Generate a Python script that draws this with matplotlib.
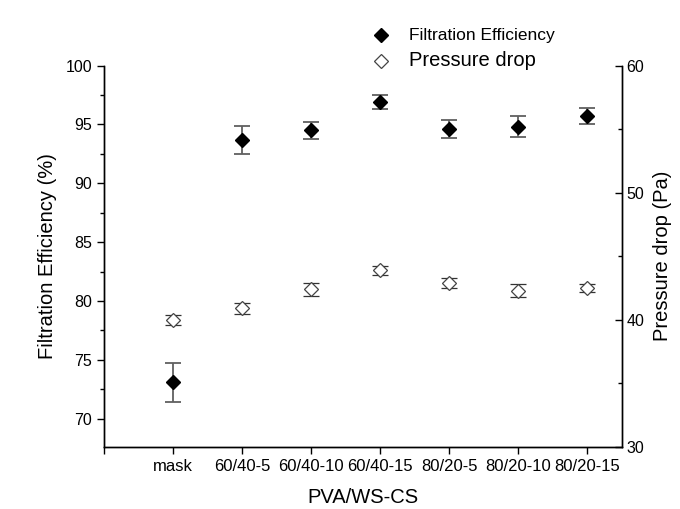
import matplotlib.pyplot as plt
from matplotlib.ticker import MultipleLocator

plt.rcParams['font.family'] = ['Liberation Sans', 'DejaVu Sans']

# data
samples = ["mask", "60/40-5", "60/40-10", "60/40-15", "80/20-5", "80/20-10", "80/20-15"]
efficiency = [73.1, 93.7, 94.5, 96.9, 94.6, 94.8, 95.7]
efficiency_err = [1.65, 1.2, 0.7, 0.6, 0.75, 0.9, 0.7]
pressure = [40.0, 40.9, 42.4, 43.9, 42.9, 42.3, 42.5]
pressure_err = [0.4, 0.45, 0.5, 0.35, 0.4, 0.5, 0.3]

x = list(range(1, len(samples) + 1))

fig = plt.figure(figsize=(6.8, 5.09), dpi=100)
ax = fig.add_axes([0.153, 0.122, 0.761, 0.749])
ax2 = ax.twinx()

# Filtration efficiency (left axis)
h1 = ax.errorbar(x, efficiency, yerr=efficiency_err, fmt='D', color='black',
                 markersize=7, ecolor='#606060', elinewidth=1.3, capsize=5.5,
                 capthick=1.3)

# Pressure drop (right axis)
h2 = ax2.errorbar(x, pressure, yerr=pressure_err, fmt='D', markerfacecolor='white',
                  markeredgecolor='#444444', markeredgewidth=0.9, markersize=7.5,
                  ecolor='#333333', elinewidth=1.1, capsize=5.5, capthick=1.1)

ax.set_xlim(0, 7.5)
ax.set_xticks([0] + x)
ax.set_xticklabels([''] + samples)
ax.set_ylim(67.6, 100)
ax.yaxis.set_major_locator(MultipleLocator(5))
ax.yaxis.set_minor_locator(MultipleLocator(2.5))
ax2.set_ylim(30, 60)
ax2.yaxis.set_major_locator(MultipleLocator(10))
ax2.yaxis.set_minor_locator(MultipleLocator(5))

ax.tick_params(axis='both', which='both', direction='out', labelsize=11.5)
ax.tick_params(axis='x', labelsize=12)
ax.tick_params(which='major', length=5, width=1)
ax.tick_params(which='minor', length=3, width=1)
ax2.tick_params(which='both', direction='in', labelsize=11.5, width=1)
ax2.tick_params(which='major', length=5)
ax2.tick_params(which='minor', length=3)

for a in (ax, ax2):
    a.spines['top'].set_visible(False)
    for s in a.spines.values():
        s.set_linewidth(1.0)

ax.set_xlabel("PVA/WS-CS", fontsize=14.5, labelpad=10)
ax.set_ylabel("Filtration Efficiency (%)", fontsize=14.5, labelpad=6)
ax2.set_ylabel("Pressure drop (Pa)", fontsize=14.5, labelpad=6)

# legend shows markers only
leg = fig.legend([h1[0], h2[0]], ['Filtration Efficiency', 'Pressure drop'],
                 loc='upper left', bbox_to_anchor=(0.53, 0.97), frameon=False,
                 handletextpad=1.4, labelspacing=0.6, handlelength=1.2)
leg.get_texts()[0].set_fontsize(12.5)
leg.get_texts()[1].set_fontsize(14.5)

fig.savefig("out.png", dpi=100)
